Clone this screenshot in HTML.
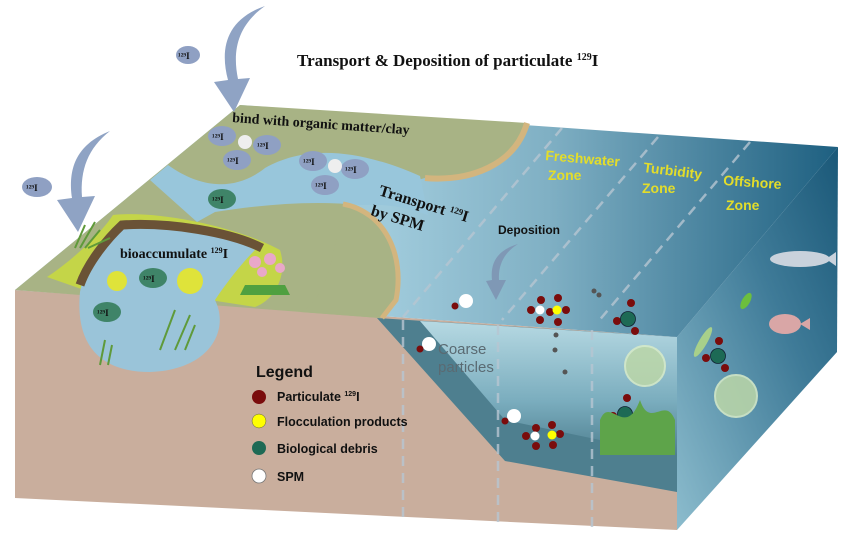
<!DOCTYPE html>
<html><head><meta charset="utf-8"><style>
html,body{margin:0;padding:0;background:#fff;width:859px;height:547px;overflow:hidden}
svg{display:block}
.t{font-family:"Liberation Serif",serif;font-weight:bold;fill:#111}
.s{font-family:"Liberation Sans",sans-serif;font-weight:bold}
</style></head><body>
<svg width="859" height="547" viewBox="0 0 859 547" xmlns="http://www.w3.org/2000/svg">
<defs>
<linearGradient id="oc" gradientUnits="userSpaceOnUse" x1="390" y1="200" x2="840" y2="200">
<stop offset="0" stop-color="#9fcadb"/><stop offset="0.35" stop-color="#80b0c4"/><stop offset="1" stop-color="#1d5f80"/></linearGradient>
<linearGradient id="rf" x1="0" y1="1" x2="1" y2="0">
<stop offset="0" stop-color="#8cbccd"/><stop offset="0.6" stop-color="#3f7b98"/><stop offset="1" stop-color="#1a5878"/></linearGradient>
<linearGradient id="cs" x1="0" y1="0" x2="0" y2="1">
<stop offset="0" stop-color="#c2e3ec"/><stop offset="0.6" stop-color="#7fb2c3"/><stop offset="1" stop-color="#4f7f90"/></linearGradient>
</defs>
<polygon points="15,290 677,337 677,530 15,498" fill="#c9ae9d"/>
<polygon points="377,318 677,337 677,492 505,461" fill="#4e7f8f"/>
<polygon points="420,321 677,337 677,455 600,440 505,420" fill="url(#cs)" opacity="0.9"/>
<polygon points="677,337 838,147 837,352 677,530" fill="url(#rf)"/>
<polygon points="15,290 240,105 838,147 677,337" fill="url(#oc)"/>
<path d="M15,290 L240,105 L527,123 C515,165 470,182 425,178 L340,200 C390,210 405,260 380,318 Z" fill="#a8b385"/>
<path d="M527,123 C515,165 470,182 425,178" fill="none" stroke="#d3b57e" stroke-width="6"/>
<path d="M168,165 C200,188 235,192 265,168 C300,148 350,145 420,176 L428,215 C400,205 380,204 360,205 C310,200 260,205 215,212 L197,222 L150,180 Z" fill="#98c6db"/>
<path d="M343,204 C385,212 405,255 396,300 L380,318 L300,312 C330,300 335,240 343,204Z" fill="#a8b385"/>
<path d="M343,204 C385,212 405,255 396,300 L382,318" fill="none" stroke="#d3b57e" stroke-width="5"/>
<path d="M47,277 C70,262 100,235 113,215 C160,210 240,228 280,250 C288,275 275,300 255,307 L210,300 L90,292 Z" fill="#c4d548"/>
<path d="M80,292 C85,265 105,240 120,227 C170,225 230,235 255,250 C240,265 225,285 215,300 C230,330 210,370 150,372 C100,372 75,345 80,292Z" fill="#9ac4d9"/>
<path d="M80,285 C88,262 108,238 122,225 C170,222 230,232 262,248" fill="none" stroke="#6a5236" stroke-width="9"/>
<g stroke="#b7c6d2" stroke-width="2.5" stroke-dasharray="10,7" fill="none" opacity="0.8">
<line x1="562" y1="128" x2="403" y2="317"/><line x1="658" y1="137" x2="502" y2="320"/><line x1="750" y1="142" x2="597" y2="323"/>
<line x1="403" y1="320" x2="403" y2="520"/><line x1="498" y1="325" x2="498" y2="525"/><line x1="592" y1="330" x2="592" y2="528"/>
</g>
<path d="M265,6 C225,20 220,50 228,80 L214,82 L234,112 L250,78 L238,79 C232,50 238,25 265,6Z" fill="#8fa3c4"/>
<path d="M110,131 C75,145 68,170 72,198 L57,200 L78,232 L95,196 L82,197 C80,170 88,148 110,131Z" fill="#8fa3c4"/>
<path d="M518,244 C498,250 490,262 492,280 L486,281 L496,300 L506,280 L499,280 C498,264 505,252 518,244Z" fill="#7f98b5"/>
<g class="t" font-size="9">
<g fill="#8fa0c3"><ellipse cx="188" cy="55" rx="12" ry="9"/><ellipse cx="37" cy="187" rx="15" ry="10"/>
<ellipse cx="222" cy="136" rx="14" ry="10"/><ellipse cx="267" cy="145" rx="14" ry="10"/><ellipse cx="237" cy="160" rx="14" ry="10"/>
<ellipse cx="313" cy="161" rx="14" ry="10"/><ellipse cx="355" cy="169" rx="14" ry="10"/><ellipse cx="325" cy="185" rx="14" ry="10"/></g>
<circle cx="245" cy="142" r="7" fill="#eee"/><circle cx="335" cy="166" r="7" fill="#eee"/>
<g fill="#3f8468"><ellipse cx="222" cy="199" rx="14" ry="10"/><ellipse cx="153" cy="278" rx="14" ry="10"/><ellipse cx="107" cy="312" rx="14" ry="10"/></g>
<text x="178" y="59">¹²⁹I</text><text x="26" y="191">¹²⁹I</text><text x="212" y="140">¹²⁹I</text><text x="257" y="149">¹²⁹I</text><text x="227" y="164">¹²⁹I</text>
<text x="303" y="165">¹²⁹I</text><text x="345" y="173">¹²⁹I</text><text x="315" y="189">¹²⁹I</text><text x="212" y="203">¹²⁹I</text><text x="143" y="282">¹²⁹I</text><text x="97" y="316">¹²⁹I</text>
</g>
<circle cx="117" cy="281" r="10" fill="#dfe33a"/><circle cx="190" cy="281" r="13" fill="#dfe33a"/>
<g stroke="#5f9a3a" stroke-width="2" fill="none"><path d="M75,248 L85,225 M80,248 L95,222 M85,248 L100,230 M88,248 L110,238"/>
<path d="M160,350 L175,310 M175,350 L190,315 M185,350 L195,325"/><path d="M100,365 L105,340 M108,365 L112,345"/></g>
<g fill="#e9a8c8"><circle cx="255" cy="262" r="6"/><circle cx="270" cy="259" r="6"/><circle cx="280" cy="268" r="5"/><circle cx="262" cy="272" r="5"/></g>
<path d="M240,295 L290,295 L285,285 L245,285Z" fill="#4fa040"/>
<g>
<circle cx="466" cy="301" r="7" fill="#fff"/><circle cx="455" cy="306" r="3.5" fill="#7a0c0c"/>
<circle cx="429" cy="344" r="7" fill="#fff"/><circle cx="420" cy="349" r="3.5" fill="#7a0c0c"/>
<circle cx="514" cy="416" r="7" fill="#fff"/><circle cx="505" cy="421" r="3.5" fill="#7a0c0c"/>
<g fill="#7a0c0c"><circle cx="541" cy="300" r="4"/><circle cx="531" cy="310" r="4"/><circle cx="540" cy="320" r="4"/><circle cx="558" cy="298" r="4"/><circle cx="566" cy="310" r="4"/><circle cx="558" cy="322" r="4"/><circle cx="550" cy="312" r="4"/>
<circle cx="536" cy="428" r="4"/><circle cx="526" cy="436" r="4"/><circle cx="536" cy="446" r="4"/><circle cx="552" cy="425" r="4"/><circle cx="560" cy="434" r="4"/><circle cx="553" cy="445" r="4"/>
<circle cx="631" cy="303" r="4"/><circle cx="617" cy="321" r="4"/><circle cx="635" cy="331" r="4"/>
<circle cx="627" cy="398" r="4"/><circle cx="613" cy="416" r="4"/><circle cx="632" cy="424" r="4"/>
<circle cx="719" cy="341" r="4"/><circle cx="706" cy="358" r="4"/><circle cx="725" cy="368" r="4"/></g>
<circle cx="540" cy="310" r="4.5" fill="#fff"/><circle cx="557" cy="310" r="4.5" fill="#ff0"/>
<circle cx="535" cy="436" r="4.5" fill="#fff"/><circle cx="552" cy="435" r="4.5" fill="#ff0"/>
<g fill="#1d6a55" stroke="#123" stroke-width="0.8"><circle cx="628" cy="319" r="7.5"/><circle cx="625" cy="414" r="7.5"/><circle cx="718" cy="356" r="7.5"/></g>
<g fill="#bcd7a8" stroke="#d9ecc8" stroke-width="2" opacity="0.85"><circle cx="645" cy="366" r="20"/><circle cx="736" cy="396" r="21"/></g>
<g fill="#555"><circle cx="594" cy="291" r="2.5"/><circle cx="599" cy="295" r="2.5"/><circle cx="556" cy="335" r="2.5"/><circle cx="555" cy="350" r="2.5"/><circle cx="565" cy="372" r="2.5"/></g>
<path d="M600,420 C610,395 625,440 640,400 C650,430 665,395 675,420 L675,455 L600,455Z" fill="#5ea44a"/>
<ellipse cx="800" cy="259" rx="30" ry="8" fill="#c9d2dc"/><polygon points="826,259 836,252 836,266" fill="#c9d2dc"/>
<ellipse cx="785" cy="324" rx="16" ry="10" fill="#d9a6a6"/><polygon points="800,324 810,318 810,330" fill="#d9a6a6"/>
<ellipse cx="746" cy="301" rx="4" ry="9" fill="#6cbf3e" transform="rotate(30 746 301)"/>
<ellipse cx="703" cy="342" rx="4" ry="17" fill="#a8d08a" transform="rotate(30 703 342)"/>
</g>
<text class="t" x="297" y="66" font-size="17">Transport &amp; Deposition of particulate <tspan font-size="10" dy="-6">129</tspan><tspan dy="6">I</tspan></text>
<text class="t" x="232" y="122" font-size="14" transform="rotate(4 232 122)">bind with  organic matter/clay</text>
<text class="t" x="378" y="195" font-size="16" transform="rotate(17 378 195)">Transport <tspan font-size="9" dy="-5">129</tspan><tspan dy="5">I</tspan></text>
<text class="t" x="370" y="215" font-size="16" transform="rotate(17 370 215)">by SPM</text>
<text class="t" x="120" y="258" font-size="14">bioaccumulate <tspan font-size="8" dy="-5">129</tspan><tspan dy="5">I</tspan></text>
<g class="s" fill="#e3dd2a" font-size="14">
<text x="545" y="160" transform="rotate(5 545 160)">Freshwater</text><text x="548" y="180">Zone</text>
<text x="643" y="172" transform="rotate(7 643 172)">Turbidity</text><text x="642" y="193">Zone</text>
<text x="723" y="185" transform="rotate(4 723 185)">Offshore</text><text x="726" y="210">Zone</text></g>
<text class="s" x="498" y="234" font-size="12" fill="#111">Deposition</text>
<text x="438" y="354" font-family="Liberation Sans,sans-serif" font-size="15" fill="#5a6a72">Coarse</text>
<text x="438" y="372" font-family="Liberation Sans,sans-serif" font-size="15" fill="#5a6a72">particles</text>
<text class="s" x="256" y="377" font-size="16" fill="#111">Legend</text>
<circle cx="259" cy="397" r="7" fill="#7a0c0c"/><circle cx="259" cy="421" r="7" fill="#ff0" stroke="#555" stroke-width="0.5"/>
<circle cx="259" cy="448" r="7" fill="#1d6a55"/><circle cx="259" cy="476" r="7" fill="#fff" stroke="#777" stroke-width="0.8"/>
<g class="s" font-size="12.5" fill="#111">
<text x="277" y="401">Particulate <tspan font-size="7" dy="-5">129</tspan><tspan dy="5">I</tspan></text>
<text x="277" y="426">Flocculation products</text><text x="277" y="453">Biological debris</text><text x="277" y="481">SPM</text></g>
</svg>
</body></html>
